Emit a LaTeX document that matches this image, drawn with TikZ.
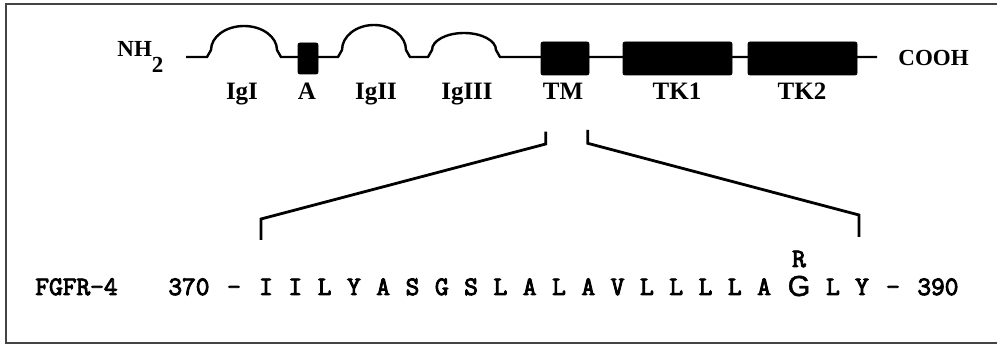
\documentclass[tikz,border=0pt]{standalone}
\usepackage{fontspec}
\setmainfont{Liberation Serif}
\newfontfamily\seqmono[FakeBold=3.5]{Latin Modern Mono}
\newfontfamily\seqsans[FakeBold=1.5]{Liberation Sans}
\usepackage{xcolor}
\usetikzlibrary{positioning}
\definecolor{Ink}{HTML}{000000}
\definecolor{FrameGray}{HTML}{444444}
\newcommand{\domainfont}{\fontsize{12.5}{14}\selectfont\bfseries}
\newcommand{\terminusfont}{\fontsize{11.5}{13}\selectfont\bfseries}
\newcommand{\seqfont}{\fontsize{13.3}{15}\selectfont\seqmono}
\newcommand{\mutfont}{\fontsize{14.5}{17}\selectfont\seqsans}
\tikzset{
  domainbox/.style={fill=Ink, draw=Ink, rounded corners=1pt, inner sep=0pt},
  backbone/.style={draw=Ink, line width=1.2pt},
  zoomline/.style={draw=Ink, line width=1.4pt},
  dlabel/.style={text=Ink, font=\domainfont, anchor=base, inner sep=0pt},
  residue/.style={text=Ink, font=\seqfont, anchor=base, inner sep=0pt},
}

\begin{document}
\begin{tikzpicture}[x=0.5pt,y=-0.5pt]
  \useasboundingbox (0,0) rectangle (997,347);
  %% frame
  \draw[FrameGray, line width=1.2pt] (6,4) rectangle (1006,343);

  %% backbone with Ig loops
  \draw[backbone] (186,57) -- (207,57) -- (211,50)
    arc[start angle=180, end angle=360, x radius=33, y radius=24] -- (281,57)
    -- (338,57) -- (342,50)
    arc[start angle=180, end angle=360, x radius=32, y radius=25] -- (410,57)
    -- (428,57) -- (432,50)
    arc[start angle=180, end angle=360, x radius=32, y radius=17] -- (500,57)
    -- (877,57);

  %% boxed domains
  \node[domainbox, minimum width=10pt, minimum height=15.5pt] (A) at (308,58.5) {};
  \node[domainbox, minimum width=24pt, minimum height=16.5pt] (TM) at (565,58.5) {};
  \node[domainbox, minimum width=54.5pt, minimum height=16.5pt] (TK1) at (677.5,58.5) {};
  \node[domainbox, minimum width=54.5pt, minimum height=16.5pt] (TK2) at (802.5,58.5) {};

  %% termini
  \node[text=Ink, font=\terminusfont, anchor=base west, inner sep=0pt] (nterm) at (117,57) {NH\raisebox{-8pt}{2}};
  \node[text=Ink, font=\terminusfont, anchor=base west, inner sep=0pt] (cterm) at (898,66) {COOH};

  %% domain labels
  \node[dlabel] (labIgI) at (242,100) {IgI};
  \node[dlabel] (labA) at (307,100) {A};
  \node[dlabel] (labIgII) at (376,100) {IgII};
  \node[dlabel] (labIgIII) at (467,100) {IgIII};
  \node[dlabel] (labTM) at (563,100) {TM};
  \node[dlabel] (labTK1) at (677,100) {TK1};
  \node[dlabel] (labTK2) at (802,100) {TK2};

  %% sequence of the transmembrane part
  \node[residue, anchor=base west] (seqname) at (35,295) {FGFR-4};
  \node[residue, anchor=base west] (start) at (168,295) {370};
  \node[residue] (dashL) at (234,295) {-};
  \foreach \res [count=\n] in {I,I,L,Y,A,S,G,S,L,A,L,A,V,L,L,L,L,A}
    \node[residue] (r\n) at (266+29.3*\n-29.3,295) {\res};
  \node[text=Ink, font=\mutfont, anchor=base, inner sep=0pt] (r19) at (799,296) {G};
  \node[residue] (mut) at (799,267) {R};
  \node[residue] (r20) at (833,295) {L};
  \node[residue] (r21) at (862,295) {Y};
  \node[residue] (dashR) at (893,295) {-};
  \node[residue, anchor=base west] (stop) at (917,295) {390};

  %% zoom lines from TM to the sequence
  \coordinate (tmL) at (545.7,131.7);
  \coordinate (tmR) at (587.7,130);
  \coordinate (seqL) at (261,240);
  \coordinate (seqR) at (859,237);
  \draw[zoomline] (seqL) -- ++(0,-21) -- ++(284.7,-75) -- (tmL);
  \draw[zoomline] (seqR) -- ++(0,-22) -- ++(-271.3,-71.7) -- (tmR);
\end{tikzpicture}
\end{document}
